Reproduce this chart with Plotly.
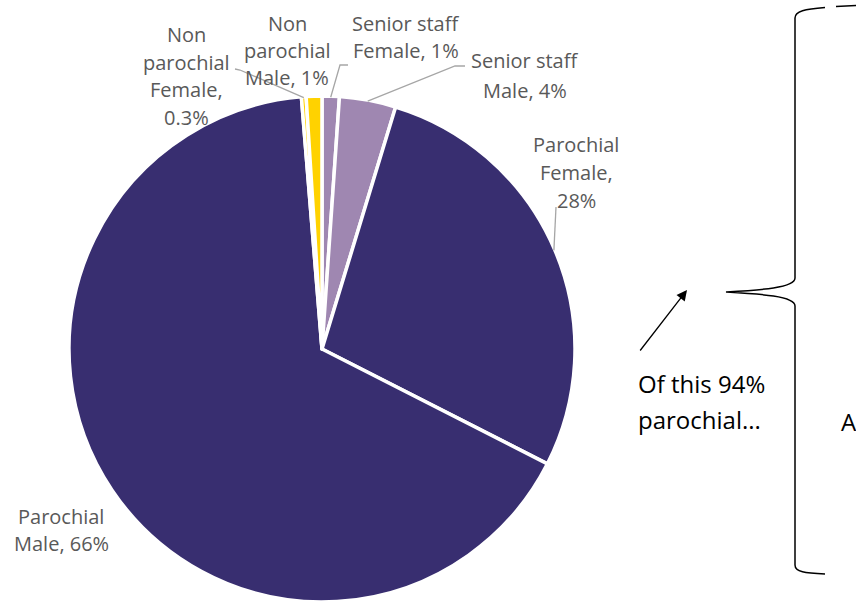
import math
import plotly.graph_objects as go

# ---- data ----
categories = ["Senior staff Female", "Senior staff Male", "Parochial Female",
              "Parochial Male", "Non parochial Female", "Non parochial Male"]
values = [1.1, 3.6, 27.8, 66.2, 0.3, 1.0]
pct_text = ["1%", "4%", "28%", "66%", "0.3%", "1%"]
label_lines = [
    ["Senior staff", "Female, 1%"],
    ["Senior staff", "Male, 4%"],
    ["Parochial", "Female,", "28%"],
    ["Parochial", "Male, 66%"],
    ["Non", "parochial", "Female,", "0.3%"],
    ["Non", "parochial", "Male, 1%"],
]
colors = ["#9F87B1", "#9F87B1", "#382E70", "#382E70", "#FFD200", "#FFD200"]

# ---- layout (pixels) ----
W, H = 856, 602
CX, CY, R = 322, 349, 253
label_pos = [  # x centre, y centre of each line
    (406, [23, 50]),
    (525, [60, 90]),
    (576, [144, 172, 200]),
    (61, [516, 543]),
    (186, [34, 62, 89, 117]),
    (287, [23, 50, 77]),
]
leader_start = [
    [(348, 65), (340, 65)],
    [(465, 66), (455, 66)],
    [(556, 207)],
    None,
    [(235, 69), (240, 70)],
    None,
]

fig = go.Figure()
fig.add_trace(go.Pie(
    labels=categories, values=values, sort=False, direction="clockwise",
    rotation=0, textinfo="none", hoverinfo="label+percent",
    marker=dict(colors=colors, line=dict(color="white", width=3.5)),
    domain=dict(x=[(CX - R) / W, (CX + R) / W], y=[0, 2 * R / H]),
    showlegend=False,
))
# invisible pixel overlay axis
fig.add_trace(go.Scatter(x=[0, W], y=[0, H], mode="markers",
                         marker=dict(opacity=0), hoverinfo="skip", showlegend=False))

annotations = []
shapes = []
total = sum(values)
cum = 0.0
for i, v in enumerate(values):
    mid = 2 * math.pi * (cum + v / 2) / total
    cum += v
    ex = CX + (R - 1) * math.sin(mid)
    ey = CY - (R - 1) * math.cos(mid)
    if leader_start[i]:
        pts = leader_start[i] + [(ex, ey)]
        path = "M " + " L ".join(f"{x:.1f},{y:.1f}" for x, y in pts)
        shapes.append(dict(type="path", path=path, xref="x", yref="y",
                           line=dict(color="#A6A6A6", width=1.3)))
    lx, lys = label_pos[i]
    for txt, ly in zip(label_lines[i], lys):
        annotations.append(dict(x=lx, y=ly, xref="x", yref="y", text=txt,
                                showarrow=False, xanchor="center", yanchor="middle",
                                font=dict(family="Open Sans", size=20, color="#595959")))

# brace
shapes.append(dict(type="path", xref="x", yref="y",
                   path=("M 825,7.5 C 805,9 795,11 795,18 L 795,278 "
                         "C 795,288 760,290 726,292 C 760,294 795,296 795,306 "
                         "L 795,565 C 795,572 805,573 825,574"),
                   line=dict(color="black", width=1.5)))
shapes.append(dict(type="line", xref="x", yref="y", x0=836, y0=6.5, x1=857, y1=5.5,
                   line=dict(color="black", width=1.5)))

# arrow
annotations.append(dict(x=687, y=290, ax=639, ay=352, xref="x", yref="y",
                        axref="x", ayref="y", text="", showarrow=True,
                        arrowhead=2, arrowsize=1.6, arrowwidth=1.3, arrowcolor="black"))
for txt, ly in zip(["Of this 94%", "parochial..."], [383, 419]):
    annotations.append(dict(x=636, y=ly, xref="x", yref="y", text=txt, showarrow=False,
                            xanchor="left", yanchor="middle",
                            font=dict(family="Open Sans", size=24, color="black")))
annotations.append(dict(x=839, y=421, xref="x", yref="y", text="A", showarrow=False,
                        xanchor="left", yanchor="middle",
                        font=dict(family="Open Sans", size=24, color="black")))

fig.update_layout(
    width=W, height=H, margin=dict(l=0, r=0, t=0, b=0),
    paper_bgcolor="white", plot_bgcolor="rgba(0,0,0,0)",
    xaxis=dict(range=[0, W], visible=False, fixedrange=True),
    yaxis=dict(range=[H, 0], visible=False, fixedrange=True),
    shapes=shapes, annotations=annotations,
)
fig.write_html("out.html", config={"displayModeBar": False},
               post_script="document.body.style.margin='0';document.body.style.overflow='hidden';")
